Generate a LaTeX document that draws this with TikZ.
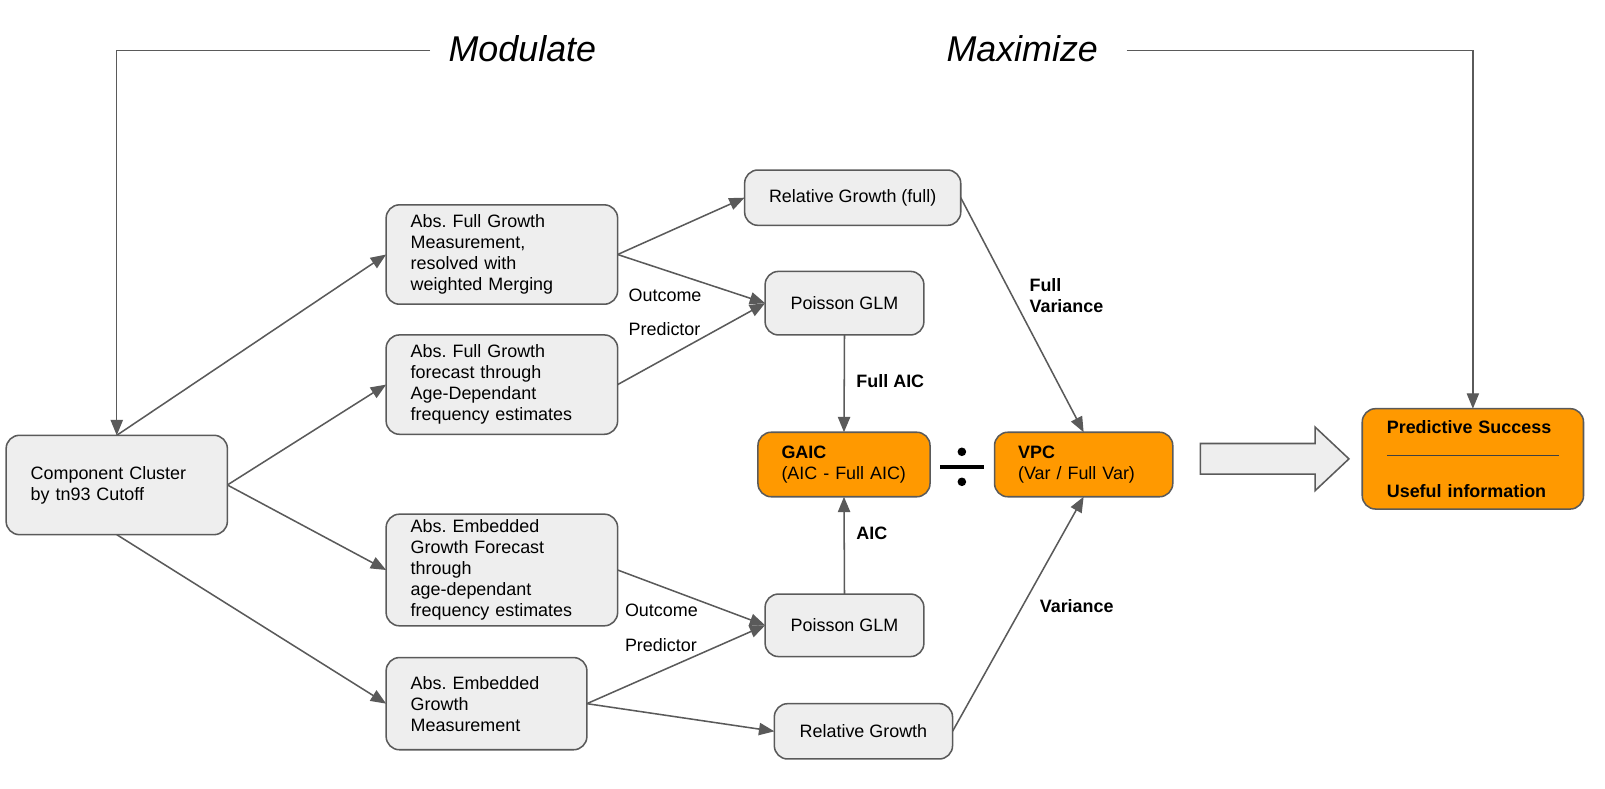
\documentclass[tikz,border=0pt]{standalone}
\usepackage{fontspec}
\setmainfont{Liberation Sans}
\usetikzlibrary{arrows.meta}
\definecolor{boxgray}{HTML}{EEEEEE}
\definecolor{edgegray}{HTML}{5A5A5A}
\definecolor{orng}{HTML}{FF9900}
\begin{document}
\begin{tikzpicture}[x=1pt,y=-1pt,
  font=\fontsize{17.5}{20.5}\selectfont,
  basebox/.style={draw=edgegray, line width=1.5pt, rounded corners=13pt, inner ysep=0pt, outer sep=0pt},
  lbox/.style={basebox, fill=boxgray, inner xsep=24pt, align=left},
  cbox/.style={basebox, fill=boxgray, inner xsep=4pt, align=center},
  obox/.style={basebox, fill=orng, align=left},
  conn/.style={draw=edgegray, line width=1.5pt, -{Triangle[length=15pt,width=12pt]}},
  thinconn/.style={draw=edgegray, line width=1.2pt, -{Triangle[length=15pt,width=12pt]}},
  lbl/.style={inner sep=0pt, anchor=west, align=left},
  title/.style={inner sep=0pt, font=\fontsize{35}{40}\selectfont\itshape}]
\useasboundingbox (0,0) rectangle (1567,770);

% boxes
\node[lbox, text width=168pt, minimum height=97pt] (comp) at (114,473.5) {Component~Cluster\\by~tn93~Cutoff};
\node[lbox, text width=178pt, minimum height=97pt] (afgm) at (490,248.5) {Abs.~Full~Growth\\Measurement,\\resolved~with\\weighted~Merging};
\node[lbox, text width=178pt, minimum height=97pt] (afgf) at (490,375.5) {Abs.~Full~Growth\\forecast~through\\Age-Dependant\\frequency~estimates};
\node[lbox, text width=178pt, minimum height=109pt] (aegf) at (490,556.5) {Abs.~Embedded\\Growth~Forecast\\through\\age-dependant\\frequency~estimates};
\node[lbox, text width=148pt, minimum height=90pt] (aegm) at (475,687) {Abs.~Embedded\\Growth\\Measurement};
\node[cbox, minimum width=211pt, minimum height=54pt] (rgf) at (832.5,193) {Relative Growth (full)};
\node[cbox, minimum width=155pt, minimum height=62pt] (pt) at (824.5,296) {Poisson GLM};
\node[cbox, minimum width=155pt, minimum height=61pt] (pb) at (824.5,610.5) {Poisson GLM};
\node[cbox, minimum width=174pt, minimum height=54pt] (rg) at (843,714) {Relative Growth};
\node[obox, text width=122pt, inner xsep=23pt, minimum height=63pt] (gaic) at (824,453.5) {\textbf{GAIC}\\(AIC~-~Full~AIC)};
\node[obox, text width=128pt, inner xsep=23pt, minimum height=63pt] (vpc) at (1058,453.5) {\textbf{VPC}\\(Var~/~Full~Var)};
\node[obox, text width=168pt, inner xsep=24pt, minimum height=98pt] (ps) at (1438,448)
  {\textbf{Predictive~Success}\\[1.5pt]{\color{black!75}\rule{168pt}{0.8pt}}\\[20.5pt]\textbf{Useful~information}};

% titles and top connectors
\node[title] (mod) at (510,48) {Modulate};
\node[title] (max) at (998,48) {Maximize};
\coordinate (ml) at (420,49);
\coordinate (mr) at (1100,49);
\draw[thinconn] (ml) -| (comp.north);
\draw[thinconn] (mr) -| (ps.north);

% connectors
\draw[conn] (comp.north) -- (afgm.west);
\draw[conn] (comp.east) -- (afgf.west);
\draw[conn] (comp.east) -- (aegf.west);
\draw[conn] (comp.south) -- (aegm.west);
\draw[conn] (afgm.east) -- (rgf.west);
\draw[conn] (afgm.east) -- (pt.west);
\draw[conn] (afgf.east) -- (pt.west);
\draw[conn] (aegf.east) -- (pb.west);
\draw[conn] (aegm.east) -- (pb.west);
\draw[conn] (aegm.east) -- (rg.west);
\draw[conn] (pt.south) -- (gaic.north);
\draw[conn] (pb.north) -- (gaic.south);
\draw[conn] (rgf.east) -- (vpc.north);
\draw[conn] (rg.east) -- (vpc.south);

% labels
\node[lbl] (out1) at (613.6,288) {Outcome};
\node[lbl] (pred1) at (613.6,321) {Predictor};
\node[lbl] (out2) at (610,596) {Outcome};
\node[lbl] (pred2) at (610,630) {Predictor};
\node[lbl] (lfaic) at (836,372) {\textbf{Full AIC}};
\node[lbl] (laic) at (836,521) {\textbf{AIC}};
\node[lbl] (lfv) at (1005,288.5) {\textbf{Full}\\\textbf{Variance}};
\node[lbl] (lv) at (1015,592) {\textbf{Variance}};

% division sign
\fill[black] (917.3,454.1) rectangle (961,458.3);
\fill[black] (939.1,441.1) circle (4.2);
\fill[black] (939.1,470.4) circle (4.2);

% big arrow
\draw[draw=edgegray, fill=boxgray, line width=1.5pt, line join=miter]
  (1172,433) -- (1284,433) -- (1284,417) -- (1317,448) -- (1284,479) -- (1284,463) -- (1172,463) -- cycle;
\end{tikzpicture}
\end{document}
